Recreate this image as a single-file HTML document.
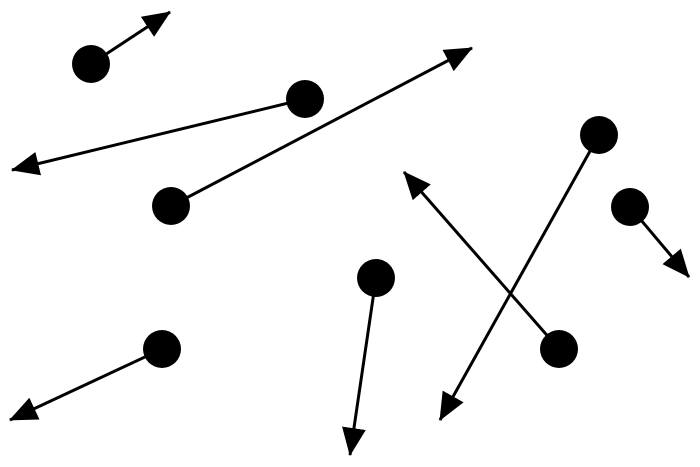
<!DOCTYPE html>
<html><head><style>html,body{margin:0;padding:0;background:#fff}svg{display:block}</style></head>
<body>
<svg width="700" height="467" viewBox="0 0 700 467" xmlns="http://www.w3.org/2000/svg">
<defs>
<marker id="a" markerUnits="userSpaceOnUse" markerWidth="28" markerHeight="24" refX="27" refY="12" orient="auto">
<path d="M0,0 L28,12 L0,24 z" fill="#000"/>
</marker>
</defs>
<g stroke="#000" stroke-width="3" marker-end="url(#a)">
<line x1="91" y1="64" x2="170" y2="12"/>
<line x1="305" y1="99" x2="12" y2="170"/>
<line x1="171" y1="206" x2="472" y2="48"/>
<line x1="599" y1="135" x2="440" y2="420"/>
<line x1="630" y1="207" x2="689" y2="277"/>
<line x1="376" y1="278" x2="350" y2="455"/>
<line x1="162" y1="349" x2="10" y2="420"/>
<line x1="559" y1="349" x2="404" y2="172"/>
</g>
<g fill="#000">
<circle cx="91" cy="64" r="19"/>
<circle cx="305" cy="99" r="19"/>
<circle cx="171" cy="206" r="19"/>
<circle cx="599" cy="135" r="19"/>
<circle cx="630" cy="207" r="19"/>
<circle cx="376" cy="278" r="19"/>
<circle cx="162" cy="349" r="19"/>
<circle cx="559" cy="349" r="19"/>
</g>
</svg>
</body></html>
